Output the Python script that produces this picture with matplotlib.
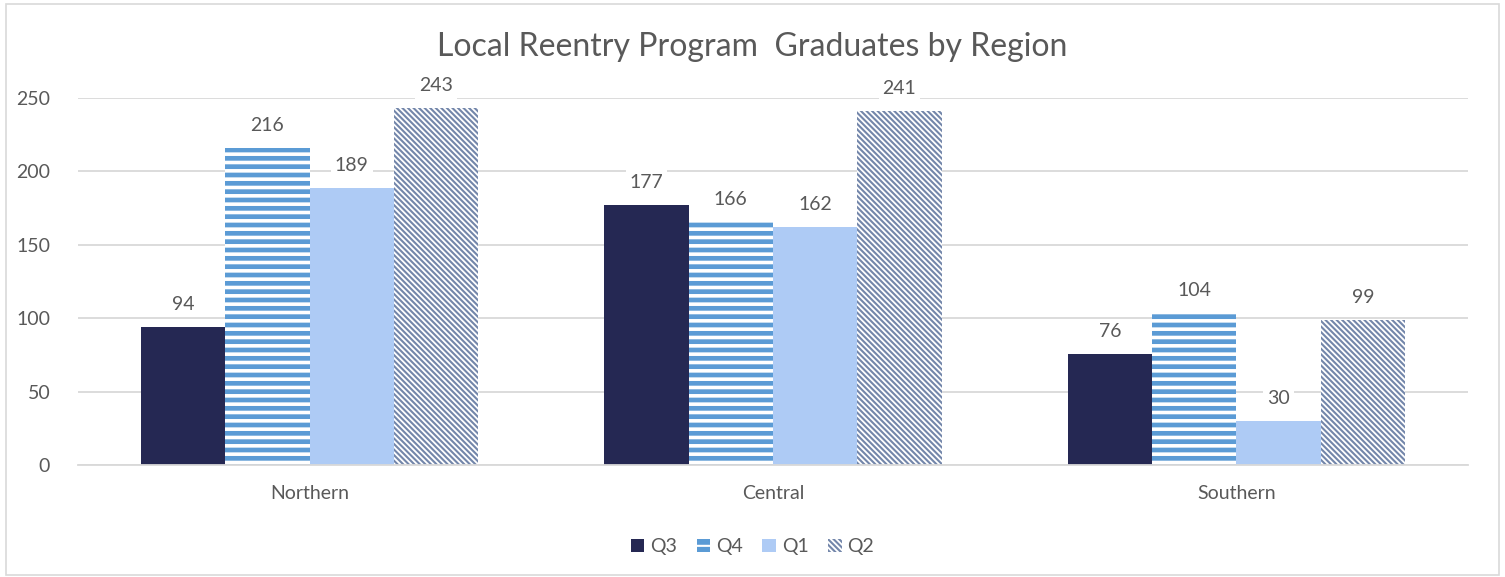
import numpy as np
import matplotlib
matplotlib.use('Agg')
import matplotlib.pyplot as plt
from matplotlib.patches import Rectangle

plt.rcParams['font.family'] = ['Lato', 'DejaVu Sans']

# データ
regions = ['Northern', 'Central', 'Southern']
quarters = ['Q3', 'Q4', 'Q1', 'Q2']
q3 = [94, 177, 76]
q4 = [216, 166, 104]
q1 = [189, 162, 30]
q2 = [243, 241, 99]

text_col = '#595959'
grid_col = '#D9D9D9'

fig = plt.figure(figsize=(15.05, 5.77), dpi=100)
ax = fig.add_axes([0.0518, 0.194, 0.9236, 0.636])

# 枠線
fig.patches.append(Rectangle((0.004, 0.004), 0.992, 0.989, transform=fig.transFigure,
                             fill=False, edgecolor='#D9D9D9', linewidth=1.2))

x = np.arange(len(regions))
w = 0.182

styles = [
    dict(color='#252853', hatch=None, ec='#252853', lw=0.0),
    dict(color='#5B9BD5', hatch='--', ec='white', lw=2.6),
    dict(color='#AECBF5', hatch=None, ec='#AECBF5', lw=0.0),
    dict(color='white', hatch='\\' * 6, ec='#7386AA', lw=1.5),
]

series = [q3, q4, q1, q2]
for i, (vals, name, st) in enumerate(zip(series, quarters, styles)):
    if st['hatch']:
        plt.rcParams['hatch.linewidth'] = st['lw']
    bars = ax.bar(x + (i - 1.5) * w, vals, w, label=name, facecolor=st['color'],
                  edgecolor=st['ec'], hatch=st['hatch'], linewidth=0, zorder=2)
    for b, v in zip(bars, vals):
        ax.annotate(str(v), (b.get_x() + b.get_width() / 2, v), xytext=(0, 10),
                    textcoords='offset points', ha='center', va='bottom',
                    fontsize=14, color=text_col, zorder=4,
                    bbox=dict(facecolor='white', edgecolor='none', pad=3))

ax.set_xlim(-0.5, 2.5)
ax.set_ylim(0, 250)
ax.set_yticks(range(0, 251, 50))
ax.set_xticks(x)
ax.set_xticklabels(regions)
ax.tick_params(axis='both', length=0, labelsize=14, colors=text_col)
ax.tick_params(axis='y', pad=20)
ax.tick_params(axis='x', pad=14)
ax.grid(axis='y', color=grid_col, linewidth=1.3, zorder=0)
for s in ['top', 'right', 'left']:
    ax.spines[s].set_visible(False)
ax.spines['bottom'].set_color(grid_col)
ax.spines['bottom'].set_linewidth(1.3)

fig.text(0.5, 0.918, 'Local Reentry Program  Graduates by Region', ha='center', va='center',
         fontsize=23, color=text_col)

leg = fig.legend(loc='center', bbox_to_anchor=(0.5, 0.052), ncol=4, frameon=False,
                 fontsize=14, handlelength=0.7, handleheight=0.7, handletextpad=0.3,
                 columnspacing=1.0)
for t in leg.get_texts():
    t.set_color(text_col)

fig.savefig('out.png', dpi=100)
